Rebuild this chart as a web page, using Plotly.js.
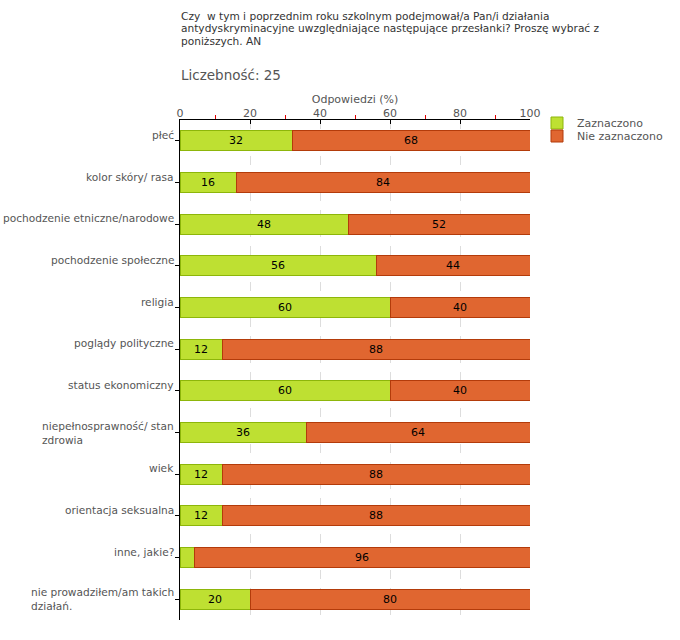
<!DOCTYPE html>
<html><head><meta charset="utf-8">
<script src="https://cdn.plot.ly/plotly-3.0.1.min.js"></script>
<style>body{margin:0;background:#fff}#c{width:680px;height:640px}</style>
</head><body><div id="c"></div>
<script>
const categories = ["płeć","kolor skóry/ rasa","pochodzenie etniczne/narodowe","pochodzenie społeczne","religia","poglądy polityczne","status ekonomiczny","niepełnosprawność/ stan<br>zdrowia","wiek","orientacja seksualna","inne, jakie?","nie prowadziłem/am takich<br>działań."];
const zaznaczono = [32,16,48,56,60,12,60,36,12,12,4,20];
const nieZaznaczono = [68,84,52,44,40,88,40,64,88,88,96,80];
const seriesNames = ["Zaznaczono","Nie zaznaczono"];
const titleLines = ["Czy  w tym i poprzednim roku szkolnym podejmował/a Pan/i działania",
  "antydyskryminacyjne uwzględniające następujące przesłanki? Proszę wybrać z",
  "poniższych. AN"];
const countText = "Liczebność: 25";
const xTicks = [0,20,40,60,80,100];
const minorTicks = [10,30,50,70,90];

const FONT = "DejaVu Sans, Verdana, sans-serif";
const labelsFor = (vals, hideBelow) => vals.map(v => v < hideBelow ? "" : String(v));

const traces = [
  {type:"bar", orientation:"h", name:seriesNames[0], y:categories, x:zaznaczono, legend:"legend",
   marker:{color:"#BEE032", line:{color:"#8DB60A", width:1}},
   text:labelsFor(zaznaczono,10), textposition:"inside", insidetextanchor:"middle",
   textfont:{color:"#000", size:11, family:FONT}},
  {type:"bar", orientation:"h", name:seriesNames[1], y:categories, x:nieZaznaczono, legend:"legend2",
   marker:{color:"#E06630", line:{color:"#B33B0A", width:1}},
   text:labelsFor(nieZaznaczono,10), textposition:"inside", insidetextanchor:"middle",
   textfont:{color:"#000", size:11, family:FONT}}
];

const PH = 500, TOP = 120;
const py = px => (TOP + PH - px) / PH;
const annotations = [];
titleLines.forEach((t, i) => annotations.push({xref:"paper", yref:"paper", x:-0.003, y:py(16 + i*12.5),
  xanchor:"left", yanchor:"middle", align:"left", text:t, showarrow:false,
  font:{family:FONT, size:10.6, color:"#333"}}));
annotations.push({xref:"paper", yref:"paper", x:-0.003, y:py(75), xanchor:"left", yanchor:"middle",
  align:"left", text:countText, showarrow:false, font:{family:FONT, size:13.5, color:"#555"}});
categories.forEach(c => {
  const multi = c.indexOf("<br>") >= 0;
  annotations.push({xref:"paper", yref:"y", x:-0.011, y:c, xanchor:"right", yanchor:"middle",
    align:"left", text:c, showarrow:false, yshift: multi ? 0 : 6,
    font:{family:FONT, size:10.6, color:"#555"}});
});

const legendBase = {x:1.02, xanchor:"left", yanchor:"middle", font:{family:FONT, size:11, color:"#555"},
  itemwidth:30, bgcolor:"rgba(0,0,0,0)", borderwidth:0};

const layout = {
  width:680, height:640,
  margin:{l:180, r:150, t:TOP, b:20, pad:0, autoexpand:false},
  paper_bgcolor:"#fff", plot_bgcolor:"#fff",
  barmode:"stack", bargap:0.52,
  font:{family:FONT, size:11, color:"#555"},
  showlegend:true,
  legend:Object.assign({}, legendBase, {y:py(123)}),
  legend2:Object.assign({}, legendBase, {y:py(136)}),
  xaxis:{side:"top", range:[0,100], tickvals:xTicks, ticks:"inside", ticklen:4,
    tickcolor:"#000", showline:true, linecolor:"#000", linewidth:1, ticklabelstandoff:-2,
    showgrid:true, gridcolor:"#ddd", griddash:"dash", gridwidth:1, zeroline:false,
    tickfont:{family:FONT, size:11, color:"#555"},
    title:{text:"Odpowiedzi (%)", font:{family:FONT, size:11, color:"#555"}, standoff:0},
    minor:{tickvals:minorTicks, ticks:"outside", ticklen:4, tickcolor:"#e00000", showgrid:false},
    fixedrange:true},
  yaxis:{autorange:"reversed", type:"category", showticklabels:false, ticks:"outside", ticklen:4,
    tickcolor:"#000", showline:true, linecolor:"#000", linewidth:1, showgrid:false,
    zeroline:false, fixedrange:true},
  annotations:annotations
};

Plotly.newPlot("c", traces, layout, {displayModeBar:false, staticPlot:true});
</script></body></html>
